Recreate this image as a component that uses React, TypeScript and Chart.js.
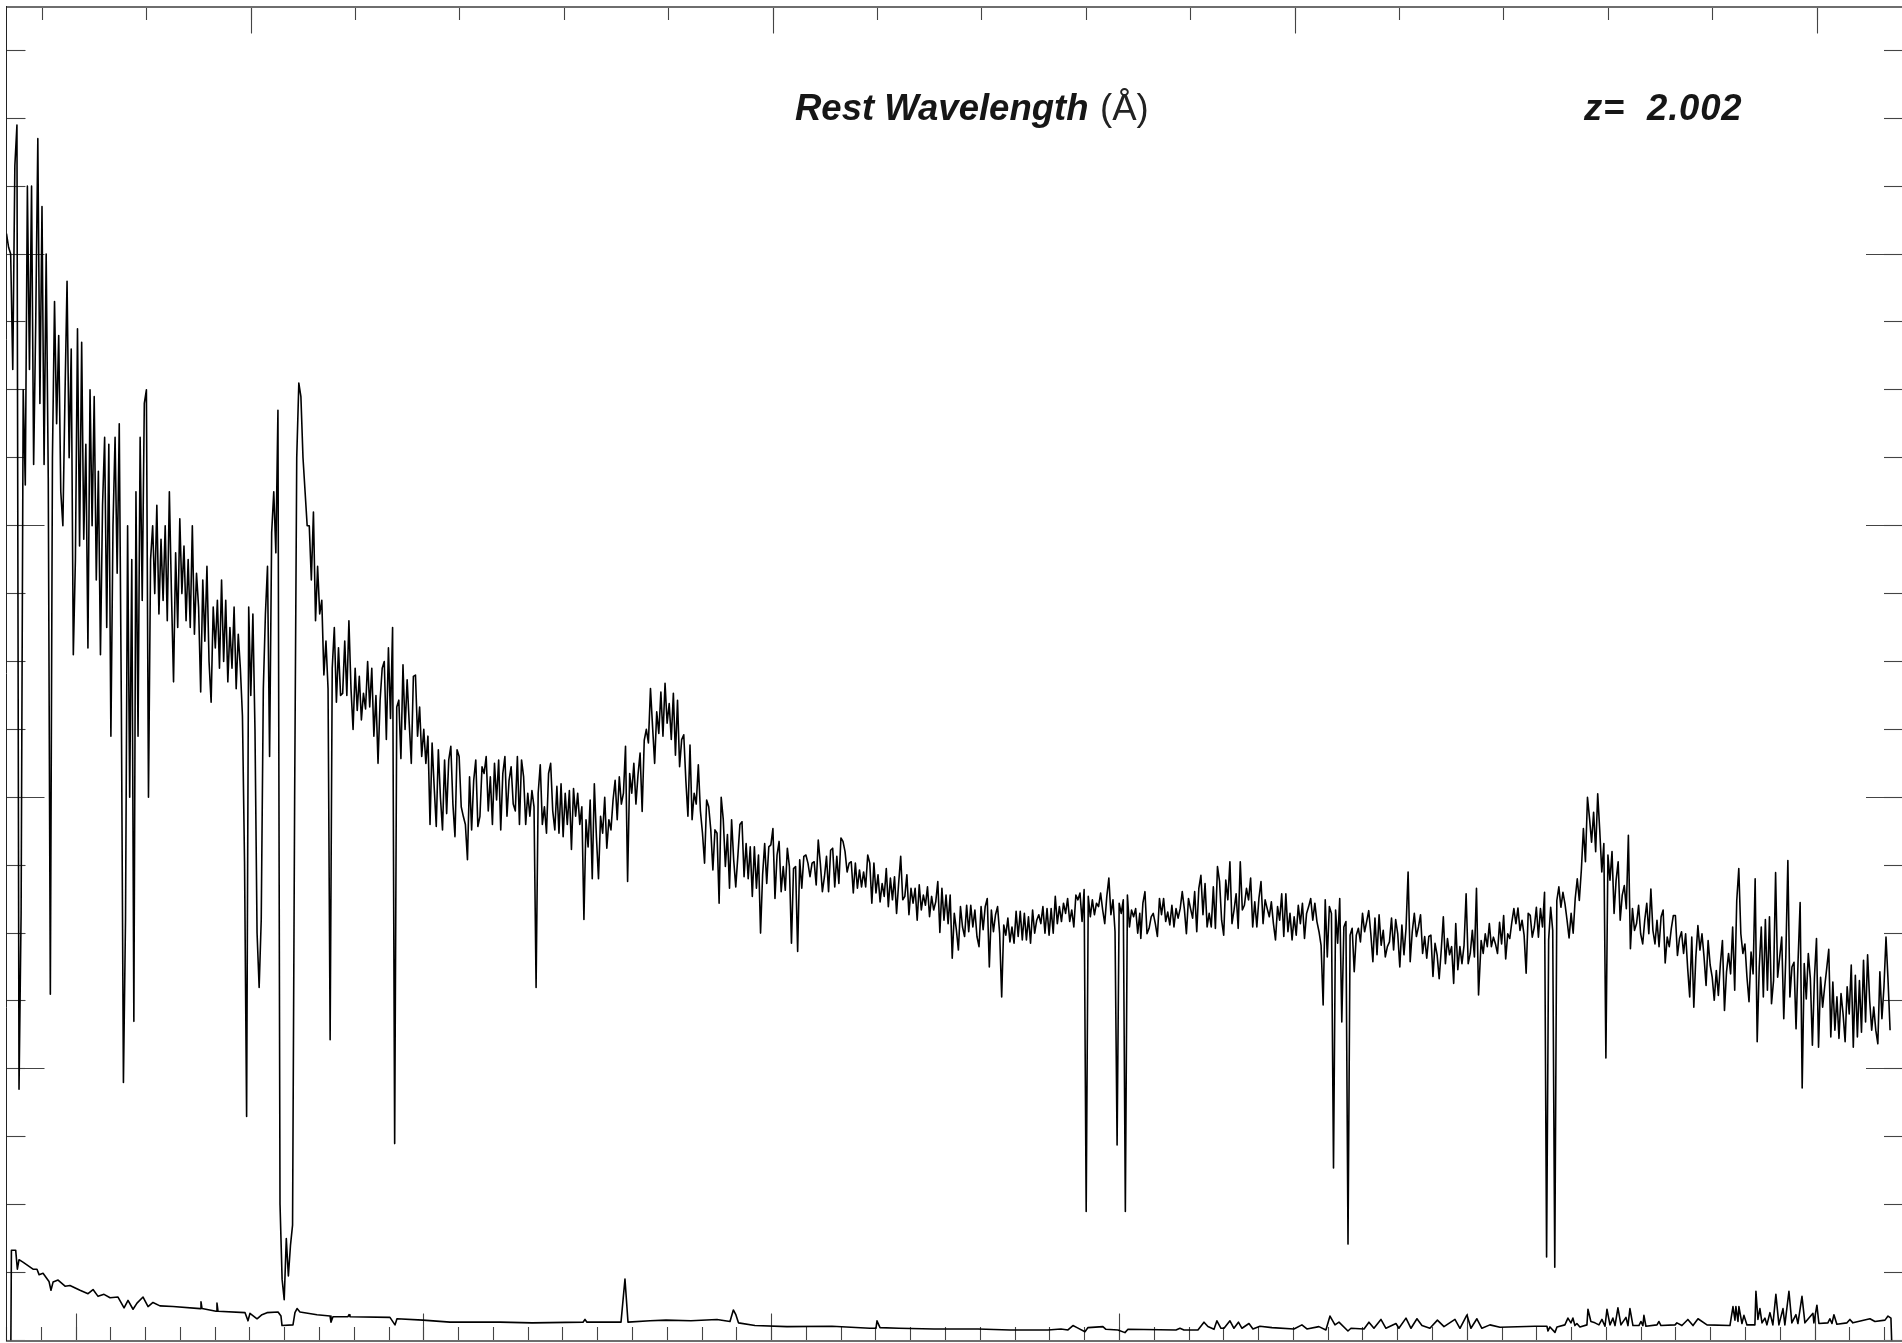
import React, { useEffect, useRef } from "react";
import { Chart, registerables } from "chart.js";

Chart.register(...registerables);

// Rest-frame wavelength range (top axis) and observed-frame range (bottom axis)
const restRange = [1265.8, 3081.4];
const obsRange = [3800, 9250];
const fluxRange = [0, 19.646];
const restMinorStep = 100;
const obsMinorStep = 100;
const fluxMinorStep = 1;
const restMajorTicks = [1500, 2000, 2500, 3000];
const obsMajorTicks = [4000, 5000, 6000, 7000, 8000, 9000];
const fluxMajorTicks = [0, 4, 8, 12, 16];

const titleText = "Rest Wavelength";
const titleUnit = "(Å)";
const redshiftText = "z=  2.002";

// Flux, section by section. Each section has its wavelength span.
const fluxSpanA = [1265.8, 1585.8];
const fluxA = [
  16.3,16.1,16.0,14.3,17.3,17.9,3.7,6.3,14.0,12.6,17.0,14.3,17.0,12.9,15.0,17.7,13.8,16.7,12.9,16.0,
  12.7,5.1,13.0,15.3,13.5,14.8,12.5,12.0,13.9,15.6,13.0,14.6,10.1,11.5,14.9,11.7,14.7,11.8,13.2,10.2,
  14.0,12.0,13.9,11.2,12.8,10.1,12.3,13.3,10.5,13.2,8.9,12.0,13.3,11.3,13.5,9.4,3.8,6.2,12.0,8.0,
  11.5,4.7,12.5,8.9,13.3,10.9,13.8,14.0,8.0,11.5,12.0,11.0,12.3,10.7,11.8,10.9,12.0,10.6,12.5,11.0,
  9.7,11.6,10.5,12.1,11.0,11.7,10.6,11.5,10.5,12.0,10.4,11.3,10.8,9.55,11.2,10.3,11.4,10.0,9.4,10.8,
  10.2,10.9,9.9,11.2,10.0,10.9,9.7,10.5,9.9,10.8,9.6,10.4,9.9,9.2,7.05,3.3,10.8,9.5,10.7,9.0,
  6.0,5.2,6.2,9.6,10.7,11.4,8.6,11.9,12.5,11.6,13.7,2.0,0.9,0.6,1.5,0.95,1.4,1.7,8.0,13.0,
  14.1,13.9,13.0,12.5,12.0,12.0,11.2,12.2,10.6,11.4,10.7,10.9,9.8,10.3,9.6,4.43,9.9,10.5,9.4,10.2,9.5,
];
const fluxSpanB = [1587.8, 1968.3];
const fluxB = [
  9.53,10.3,9.5,10.6,9.6,9.0,9.9,9.28,9.78,9.14,9.53,9.3,10.0,9.33,9.9,8.9,9.5,8.5,9.43,9.9,
  10.0,8.85,10.2,9.16,10.5,2.9,9.33,9.43,8.57,9.95,9.0,9.73,9.09,8.5,9.78,9.8,8.9,9.33,8.6,9.0,
  8.5,8.9,7.6,8.8,8.15,7.57,8.7,8.0,7.52,8.55,7.76,8.55,8.75,7.9,7.42,8.7,8.6,7.86,7.72,7.6,
  7.08,8.3,7.52,8.25,8.55,7.57,7.72,8.45,8.35,8.6,7.8,8.3,7.6,8.5,7.96,8.55,7.52,8.35,8.6,7.72,
  8.25,8.45,7.9,7.8,8.6,7.6,8.55,8.3,7.6,8.06,7.72,8.1,7.86,5.2,8.06,8.48,7.6,7.86,7.47,8.35,
  8.5,7.8,7.52,8.16,7.47,8.2,7.42,8.06,7.6,8.1,7.23,8.13,7.72,8.06,7.6,7.86,6.2,7.67,7.27,7.96,
  6.8,8.2,7.42,6.8,7.72,7.47,8.0,7.25,7.67,7.52,7.96,8.25,7.67,8.3,7.9,8.06,8.75,6.76,8.35,8.06,
  8.5,7.9,8.33,8.65,7.79,8.84,9.0,8.8,9.6,9.04,8.5,9.26,8.94,9.55,8.9,9.68,9.09,9.38,8.85,9.53,
  8.62,9.43,8.45,8.85,8.92,8.25,7.72,8.77,7.67,8.06,7.9,8.48,7.8,7.47,7.03,7.96,7.86,7.52,6.93,7.52,
  7.47,6.44,8.0,7.67,6.98,7.45,6.66,7.67,7.08,6.68,7.13,7.6,
];
const fluxSpanC = [1970.3, 2351.3];
const fluxC = [
  7.64,6.83,7.32,6.8,7.27,6.54,7.27,6.66,7.15,6.0,6.86,7.32,6.73,7.27,7.3,7.54,6.51,7.15,7.35,6.61,
  6.98,6.63,7.25,6.98,5.85,6.95,6.98,5.73,7.08,6.66,7.13,7.15,7.03,6.83,7.03,7.05,6.71,7.37,7.03,6.61,
  6.83,7.13,6.61,7.22,7.25,6.68,7.13,6.73,7.4,7.35,7.2,6.9,7.03,7.05,6.59,7.03,6.66,6.93,6.68,6.9,
  6.68,7.15,7.03,6.44,7.03,6.59,6.86,6.46,6.73,6.54,6.95,6.39,6.81,6.49,6.83,6.29,6.73,7.13,6.49,6.54,
  6.86,6.27,6.66,6.44,6.66,6.19,6.71,6.34,6.56,6.41,6.68,6.24,6.54,6.34,6.46,6.76,6.01,6.66,6.19,6.56,
  6.14,6.56,5.63,6.29,6.05,5.75,6.39,6.09,5.95,6.41,6.02,6.41,6.09,6.34,5.95,5.8,6.39,6.05,6.39,6.51,
  5.5,6.34,6.02,6.27,6.39,6.0,5.06,6.12,5.97,6.22,5.87,6.09,5.85,6.32,5.95,6.32,5.9,6.29,5.9,6.24,
  5.85,6.34,6.0,6.19,6.27,6.14,6.39,6.0,6.36,5.97,6.36,6.0,6.54,6.14,6.39,6.17,6.44,6.29,6.51,6.17,
  6.34,6.09,6.56,6.49,6.59,6.17,6.64,1.9,6.54,6.24,6.49,6.27,6.44,6.39,6.59,6.34,6.14,6.54,6.81,6.27,
  6.49,6.02,2.88,6.44,6.29,6.49,1.9,6.56,6.09,6.34,6.24,6.36,6.0,6.29,
];
const fluxSpanD = [2352.3, 2675.8];
const fluxD = [
  5.92,6.44,6.61,5.99,6.07,6.24,6.29,6.14,5.95,6.51,6.27,6.51,6.17,6.31,6.12,6.41,6.09,6.36,6.22,6.36,
  6.61,6.36,5.99,6.51,6.36,6.22,6.61,6.02,6.66,6.85,6.27,6.73,6.09,6.29,6.09,6.68,6.07,6.98,6.76,6.19,
  5.97,6.78,6.49,7.05,6.14,6.34,6.58,6.07,7.05,6.34,6.41,6.66,6.49,6.81,6.09,6.46,6.09,6.51,6.76,6.14,
  6.49,6.36,6.24,6.46,6.14,5.9,6.39,6.19,6.58,5.95,6.58,6.02,6.29,5.9,6.24,5.97,6.41,6.14,6.44,5.92,
  6.29,6.39,6.51,6.19,6.44,6.17,6.02,5.82,4.94,6.49,5.65,6.39,6.29,2.54,6.34,5.85,6.51,4.69,6.09,6.17,
  1.42,5.97,6.07,5.43,5.97,6.07,5.87,6.29,6.02,6.17,6.33,5.99,5.58,6.22,5.68,6.27,5.82,6.04,5.65,5.8,
  5.87,6.22,5.75,6.2,5.99,5.5,6.12,5.68,6.07,6.9,5.58,6.02,6.29,5.95,6.09,6.27,5.7,5.95,5.63,5.95,
  5.97,5.36,5.85,5.68,5.33,5.75,6.24,5.55,5.92,5.68,5.8,5.26,6.14,5.46,5.8,5.55,5.82,6.58,5.55,5.7,
  6.04,5.65,6.66,5.09,
];
const fluxSpanE = [2678.3, 3070];
const fluxE = [
  5.89,5.7,5.99,5.8,6.14,5.8,5.94,5.84,5.7,6.16,5.84,6.26,5.62,5.99,5.92,6.16,6.36,6.14,6.37,6.04,
  6.19,5.97,5.41,6.29,6.26,5.94,6.09,6.38,5.94,6.36,6.09,6.6,1.23,5.9,6.38,6.04,1.08,6.48,6.68,6.38,
  6.6,6.43,6.19,5.93,6.29,6.0,6.51,6.8,6.48,6.93,7.54,7.05,8.0,7.69,7.34,7.78,7.2,8.05,7.51,6.9,
  7.32,4.16,7.15,6.78,7.2,6.29,6.78,7.05,6.19,6.56,6.7,6.36,7.44,5.77,6.36,6.04,6.14,6.41,5.99,5.84,
  6.19,6.44,5.99,6.65,6.04,5.84,6.19,5.8,6.24,6.34,5.56,5.94,5.8,6.07,6.26,6.26,5.67,5.92,6.02,5.7,
  5.99,5.48,5.06,5.94,4.91,5.65,6.11,5.75,5.99,5.65,5.23,5.89,5.53,5.35,5.01,5.45,5.08,5.55,5.89,4.86,
  5.43,5.7,5.4,6.09,5.16,6.48,6.95,5.99,5.7,5.84,5.35,4.99,5.72,5.4,6.8,4.4,5.5,6.09,5.06,6.2,
  5.16,6.24,4.96,5.3,6.89,5.35,5.65,5.94,4.74,5.65,7.07,5.06,5.5,5.57,4.59,5.6,6.45,3.72,5.55,5.03,
  5.7,5.33,4.35,5.35,5.92,4.32,5.35,4.91,5.21,5.48,5.76,4.47,5.28,4.57,5.06,4.45,5.11,4.81,4.4,5.21,
  4.81,5.53,4.32,5.38,4.47,5.3,4.54,5.6,4.69,5.68,5.01,4.57,4.91,4.57,4.37,5.43,4.74,5.21,5.94,5.3,4.57,
];

// Error spectrum
const errWave = [
  1270,1270.5,1274.6,1276.2,1277.8,1281.9,1291.2,1295,1297,1300.8,1306.5,1308.4,1310.4,1315.2,1321.9,1326.6,1336.2,1343.9,1348.7,1353.5,
  1359.2,1365,1372.6,1378.4,1382.2,1387,1390.8,1396.6,1401.4,1406.1,1412.8,1425.3,1451.2,1452.1,1453.1,1466.5,1467.4,1468.4,1494.3,1497.1,
  1499,1505.8,1510.5,1515.3,1525.9,1528.7,1529.7,1540.2,1542.1,1544.1,1546.9,1563.2,1575.7,1576.6,1578.5,1592.9,1593.9,1594.8,1633.1,1637.9,
  1639.8,1664.7,1690.6,1719.3,1738.5,1769.2,1818,1819.9,1821.8,1854.4,1858.2,1861.1,1882.2,1897.5,1921.4,1946.3,1958.8,1962,1964.5,1966.9,
  1982.7,2013.4,2056.5,2092.9,2098.6,2099.6,2102.5,2120.6,2154.2,2196.3,2227,2263.3,2275.8,2282.5,2287.3,2291.2,2298.8,2301.7,2316,2318.9,
  2330.4,2337.1,2340,2386,2389.8,2393.6,2407,2412.8,2416.6,2422.4,2425.2,2429.1,2432,2437.7,2441.5,2445.8,2449.2,2455.9,2459.7,2466.4,
  2477.9,2499,2506.6,2511.4,2522.9,2529.6,2533.5,2538.3,2542.1,2550.7,2553.6,2566.1,2570.8,2575.6,2582.3,2587.1,2596.7,2599.5,2606.3,2611.1,
  2616.8,2621.6,2629.2,2636.4,2642.7,2653.2,2658,2664.7,2668.5,2674.2,2679,2686.7,2696.3,2729.8,2741.3,2742.3,2744.2,2749,2750.9,2758.5,
  2761.4,2764.3,2766.2,2768.1,2770,2772.9,2779.6,2780.6,2783.4,2787.3,2791.1,2794,2796.9,2798.8,2801.7,2804.5,2806.5,2809.3,2812.2,2817,
  2818.9,2820.8,2823.7,2829.4,2831.4,2833.2,2834.2,2836.1,2846.7,2848.6,2850.5,2864,2865.8,2870.6,2876.3,2881.2,2886,2894.6,2916.6,2919.5,
  2921.4,2922.3,2924.3,2925.2,2928.1,2930,2932.9,2940.5,2941.5,2943.4,2945.3,2947.3,2950.1,2952,2954.9,2957.7,2960.6,2963.5,2967.4,2969.2,
  2973.1,2975.9,2979.8,2981.7,2985.6,2988.4,2996.1,2997,2999.9,3001.8,3010.4,3012.3,3014.3,3016.2,3019,3028.7,3031.5,3034.4,3050.7,3055.5,
  3065.1,3068,3070.8,3071.5,
];
const errFlux = [
  0,1.33,1.33,1.05,1.19,1.15,1.05,1.05,0.97,0.99,0.87,0.74,0.86,0.89,0.8,0.81,0.74,0.69,0.75,0.65,
  0.68,0.63,0.64,0.48,0.59,0.46,0.55,0.64,0.5,0.56,0.51,0.5,0.47,0.57,0.47,0.43,0.55,0.43,0.41,0.29,
  0.4,0.32,0.38,0.41,0.42,0.36,0.22,0.23,0.41,0.47,0.42,0.38,0.36,0.27,0.35,0.35,0.38,0.35,0.34,0.23,
  0.32,0.3,0.27,0.27,0.27,0.26,0.27,0.31,0.27,0.27,0.906,0.27,0.29,0.3,0.29,0.31,0.28,0.45,0.376,0.26,
  0.22,0.204,0.21,0.18,0.18,0.29,0.19,0.18,0.17,0.17,0.155,0.155,0.17,0.155,0.22,0.19,0.13,0.19,0.204,0.165,
  0.155,0.116,0.165,0.155,0.18,0.155,0.155,0.27,0.205,0.165,0.29,0.18,0.18,0.29,0.18,0.27,0.18,0.25,0.17,0.21,
  0.19,0.17,0.23,0.17,0.204,0.155,0.36,0.23,0.27,0.14,0.18,0.17,0.27,0.18,0.31,0.18,0.25,0.18,0.33,0.18,
  0.32,0.22,0.18,0.3,0.204,0.31,0.18,0.376,0.18,0.32,0.18,0.23,0.195,0.21,0.21,0.14,0.2,0.12,0.2,0.23,
  0.33,0.26,0.33,0.22,0.25,0.2,0.23,0.46,0.28,0.26,0.23,0.31,0.21,0.46,0.23,0.33,0.22,0.48,0.23,0.34,
  0.22,0.47,0.22,0.22,0.28,0.22,0.37,0.21,0.23,0.28,0.22,0.23,0.26,0.22,0.31,0.22,0.32,0.23,0.22,0.5,
  0.3,0.5,0.28,0.5,0.25,0.37,0.23,0.23,0.725,0.31,0.47,0.26,0.33,0.23,0.41,0.23,0.68,0.23,0.47,0.23,
  0.725,0.26,0.38,0.25,0.65,0.26,0.4,0.26,0.52,0.25,0.26,0.32,0.25,0.38,0.24,0.26,0.31,0.26,0.32,0.28,
  0.3,0.36,0.33,0,
];

const withSpan = (span: number[], values: number[]) =>
  values.map((y, i) => ({ x: span[0] + ((span[1] - span[0]) * i) / (values.length - 1), y }));

const fluxPoints = [
  ...withSpan(fluxSpanA, fluxA),
  ...withSpan(fluxSpanB, fluxB),
  ...withSpan(fluxSpanC, fluxC),
  ...withSpan(fluxSpanD, fluxD),
  ...withSpan(fluxSpanE, fluxE),
];
const errPoints = errWave.map((x, i) => ({ x, y: errFlux[i] }));

const zeroHeight = (s: any) => { s.height = 0; };
const zeroWidth = (s: any) => { s.width = 0; };

const axis = (
  position: string,
  range: number[],
  tickSpec: number | number[],
  tickLength: number,
  tickColor: string,
  border: any,
) => ({
  type: "linear",
  position,
  min: range[0],
  max: range[1],
  afterFit: position === "top" || position === "bottom" ? zeroHeight : zeroWidth,
  afterBuildTicks: Array.isArray(tickSpec)
    ? (s: any) => { s.ticks = tickSpec.map((value) => ({ value })); }
    : undefined,
  ticks: {
    display: false,
    stepSize: Array.isArray(tickSpec) ? undefined : tickSpec,
    includeBounds: false,
    autoSkip: false,
  },
  grid: { drawOnChartArea: false, drawTicks: true, tickLength, tickColor, tickWidth: 1.1 },
  border,
});

const noBorder = { display: false };
const lightBorder = { display: true, color: "#6e6e6e", width: 2 };
const darkBorder = { display: true, color: "#222222", width: 1 };

const labelPlugin = {
  id: "labels",
  afterDraw(chart: any) {
    const { ctx } = chart;
    ctx.save();
    ctx.fillStyle = "#161616";
    ctx.textBaseline = "alphabetic";
    ctx.font = "italic bold 36.5px 'Liberation Sans'";
    ctx.fillText(titleText, 795, 119.5);
    ctx.letterSpacing = "0.8px";
    ctx.fillText(redshiftText, 1584, 119.5);
    ctx.letterSpacing = "0px";
    ctx.font = "36.5px 'Liberation Sans'";
    ctx.fillStyle = "#222222";
    ctx.fillText(titleUnit, 1100, 119.5);
    ctx.restore();
  },
};

export default function App() {
  const ref = useRef<HTMLCanvasElement | null>(null);
  useEffect(() => {
    const chart = new Chart(ref.current as HTMLCanvasElement, {
      type: "line",
      data: {
        datasets: [
          { label: "Flux", data: fluxPoints, xAxisID: "xRest", yAxisID: "yLeft", borderColor: "#000000", borderWidth: 1.6, pointRadius: 0, tension: 0, borderJoinStyle: "round" },
          { label: "Error", data: errPoints, xAxisID: "xRest", yAxisID: "yLeft", borderColor: "#000000", borderWidth: 1.6, pointRadius: 0, tension: 0, borderJoinStyle: "round" },
        ],
      },
      options: {
        animation: false,
        responsive: false,
        devicePixelRatio: 1,
        parsing: false,
        normalized: true,
        layout: { padding: { left: 6.5, top: 6.5, right: 0, bottom: 2.5 } },
        plugins: { legend: { display: false }, tooltip: { enabled: false }, title: { display: false } },
        scales: {
          xRest: axis("top", restRange, restMinorStep, -13.5, "#444444", lightBorder),
          xRestMajor: axis("top", restRange, restMajorTicks, -27, "#444444", noBorder),
          xObs: axis("bottom", obsRange, obsMinorStep, -13.5, "#444444", lightBorder),
          xObsMajor: axis("bottom", obsRange, obsMajorTicks, -27, "#444444", noBorder),
          yLeft: axis("left", fluxRange, fluxMinorStep, -19, "#444444", darkBorder),
          yLeftMajor: axis("left", fluxRange, fluxMajorTicks, -38, "#444444", noBorder),
          yRight: axis("right", fluxRange, fluxMinorStep, -18, "#444444", noBorder),
          yRightMajor: axis("right", fluxRange, fluxMajorTicks, -36, "#444444", noBorder),
        },
      } as any,
      plugins: [labelPlugin],
    } as any);
    return () => chart.destroy();
  }, []);
  return (
    <div style={{ position: "absolute", left: 0, top: 0, width: 1902, height: 1343, background: "#fff" }}>
      <canvas ref={ref} width={1902} height={1343} style={{ display: "block", width: 1902, height: 1343 }} />
    </div>
  );
}
